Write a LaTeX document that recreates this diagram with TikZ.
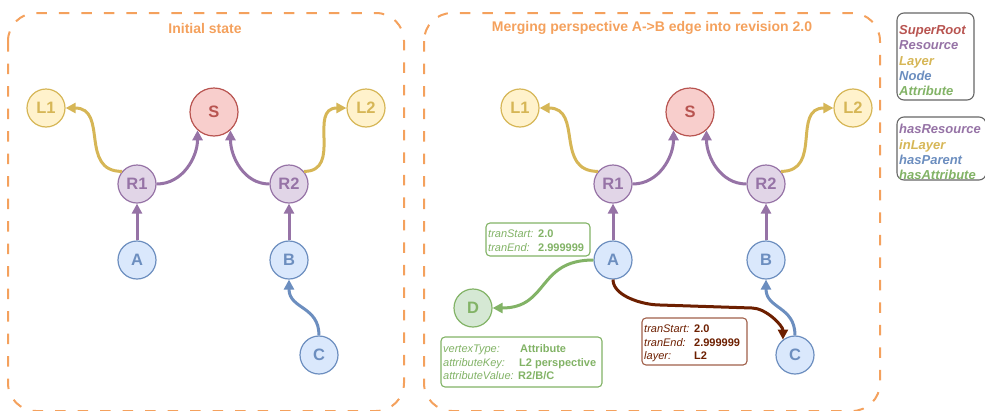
\documentclass[tikz,border=0pt]{standalone}
\usepackage{fontspec}
\setmainfont{Liberation Sans}
\usetikzlibrary{arrows.meta}

\definecolor{frameOrange}{HTML}{F4A15D}
\definecolor{srStroke}{HTML}{B85450}
\definecolor{srFill}{HTML}{F8CECC}
\definecolor{resStroke}{HTML}{9673A6}
\definecolor{resFill}{HTML}{E1D5E7}
\definecolor{layStroke}{HTML}{D6B656}
\definecolor{layFill}{HTML}{FFF2CC}
\definecolor{nodStroke}{HTML}{6C8EBF}
\definecolor{nodFill}{HTML}{DAE8FC}
\definecolor{attStroke}{HTML}{82B366}
\definecolor{attFill}{HTML}{D5E8D4}
\definecolor{brownEdge}{HTML}{6D1F00}
\definecolor{brownBox}{HTML}{A0604A}
\definecolor{legendGray}{HTML}{666666}

\tikzset{
  vtx/.style={circle, minimum size=38pt, inner sep=0pt, line width=1.2pt,
    font=\fontsize{16.5}{16.5}\selectfont\bfseries},
  rootv/.style={vtx, minimum size=48pt, draw=srStroke, fill=srFill, text=srStroke},
  resv/.style={vtx, draw=resStroke, fill=resFill, text=resStroke},
  layv/.style={vtx, draw=layStroke, fill=layFill, text=layStroke},
  nodv/.style={vtx, draw=nodStroke, fill=nodFill, text=nodStroke},
  attv/.style={vtx, draw=attStroke, fill=attFill, text=attStroke},
  edge/.style={line width=3pt, -{Triangle[length=10pt,width=10pt]}},
  hasRes/.style={edge, draw=resStroke},
  inLay/.style={edge, draw=layStroke},
  hasPar/.style={edge, draw=nodStroke},
  hasAtt/.style={edge, draw=attStroke},
  tranEdge/.style={edge, draw=brownEdge},
  panel/.style={draw=frameOrange, line width=2pt, dash pattern=on 10.5pt off 12pt,
    rounded corners=28pt},
  paneltitle/.style={text=frameOrange, font=\fontsize{14}{16}\selectfont\bfseries},
  legendbox/.style={draw=legendGray, line width=1.1pt, rounded corners=7pt},
  legend/.style={anchor=base west, inner sep=0pt, font=\fontsize{13}{13}\selectfont\bfseries\itshape},
  propbox/.style={line width=1.1pt, rounded corners=4pt, fill=white},
  propkey/.style={anchor=base west, inner sep=0pt, font=\fontsize{11}{11}\selectfont\itshape},
  propval/.style={anchor=base west, inner sep=0pt, font=\fontsize{11}{11}\selectfont\bfseries},
}

\begin{document}
\begin{tikzpicture}[x=1pt, y=-1pt]
\useasboundingbox (0,0) rectangle (985,410);
\clip (0,0) rectangle (985,410);

% ---------- panel frames and titles ----------
\draw[panel] (8,13) rectangle (404,411);
\draw[panel] (424,13) rectangle (880,411);
\node[paneltitle] (t1) at (205,28) {Initial state};
\node[paneltitle] (t2) at (652,28) {Merging perspective A->B edge into revision 2.0};

% ---------- initial state ----------
\node[rootv] (S)  at (214,112) {S};
\node[layv]  (L1) at (46,108)  {L1};
\node[layv]  (L2) at (366,108) {L2};
\node[resv]  (R1) at (137,184) {R1};
\node[resv]  (R2) at (289,184) {R2};
\node[nodv]  (A)  at (137,260) {A};
\node[nodv]  (B)  at (289,260) {B};
\node[nodv]  (C)  at (319,355) {C};

\draw[inLay]  (R1.140) to[out=180,in=0,looseness=1.3] (L1.east);
\draw[hasRes] (R1.east) to[out=0,in=-90] (S.228);
\draw[hasRes] (R2.west) to[out=180,in=-90] (S.312);
\draw[inLay]  (R2.40) to[out=0,in=180,looseness=1.3] (L2.west);
\draw[hasRes] (A) -- (R1);
\draw[hasRes] (B) -- (R2);
\draw[hasPar] (C.north) to[out=90,in=-90,looseness=1.2] (B.south);

% ---------- merged revision ----------
\node[rootv] (S')  at (690,112) {S};
\node[layv]  (L1') at (520,108) {L1};
\node[layv]  (L2') at (853,108) {L2};
\node[resv]  (R1') at (613,184) {R1};
\node[resv]  (R2') at (766,184) {R2};
\node[nodv]  (A')  at (613,260) {A};
\node[nodv]  (B')  at (766,260) {B};
\node[nodv]  (C')  at (795,355) {C};
\node[attv]  (D')  at (473,308) {D};

\draw[inLay]  (R1'.140) to[out=180,in=0,looseness=1.3] (L1'.east);
\draw[hasRes] (R1'.east) to[out=0,in=-90] (S'.228);
\draw[hasRes] (R2'.west) to[out=180,in=-90] (S'.312);
\draw[inLay]  (R2'.40) to[out=0,in=180,looseness=1.3] (L2'.west);
\draw[hasRes] (A') -- (R1');
\draw[hasRes] (B') -- (R2');
\draw[hasPar] (C'.north) to[out=90,in=-90,looseness=1.2] (B'.south);
\draw[hasAtt] (A'.west) to[out=180,in=0,looseness=1.3] (D'.east);

\coordinate (ac1) at (660,305);
\coordinate (ac2) at (752,308);
\draw[tranEdge] (A'.south) to[out=-90,in=180,looseness=0.8] (ac1) -- (ac2)
  to[out=0,in=90,looseness=0.8] (C'.128);

% ---------- edge properties ----------
\draw[propbox, draw=attStroke] (486,223) rectangle (590,256);
\begin{scope}[text=attStroke]
  \node[propkey] (k1) at (488,237) {tranStart:};
  \node[propval] (v1) at (538,237) {2.0};
  \node[propkey] (k2) at (488,251) {tranEnd:};
  \node[propval] (v2) at (538,251) {2.999999};
\end{scope}

% ---------- vertex properties ----------
\draw[propbox, draw=attStroke] (441,337) rectangle (602,387);
\begin{scope}[text=attStroke]
  \node[propkey] (k3) at (443,352) {vertexType:};
  \node[propval] (v3) at (520,352) {Attribute};
  \node[propkey] (k4) at (443,366) {attributeKey:};
  \node[propval] (v4) at (519,366) {L2 perspective};
  \node[propkey] (k5) at (443,379) {attributeValue:};
  \node[propval] (v5) at (518,379) {R2/B/C};
\end{scope}

% ---------- merged edge properties ----------
\draw[propbox, draw=brownBox] (642,318) rectangle (747,365);
\begin{scope}[text=brownEdge]
  \node[propkey] (k6) at (644,332) {tranStart:};
  \node[propval] (v6) at (694,332) {2.0};
  \node[propkey] (k7) at (644,346) {tranEnd:};
  \node[propval] (v7) at (694,346) {2.999999};
  \node[propkey] (k8) at (644,359) {layer:};
  \node[propval] (v8) at (694,359) {L2};
\end{scope}

% ---------- legend ----------
\draw[legendbox] (897,13) rectangle (974,100);
\node[legend, text=srStroke]  (lg1) at (899,34) {SuperRoot};
\node[legend, text=resStroke] (lg2) at (899,49) {Resource};
\node[legend, text=layStroke] (lg3) at (899,65) {Layer};
\node[legend, text=nodStroke] (lg4) at (899,80) {Node};
\node[legend, text=attStroke] (lg5) at (899,95) {Attribute};

\draw[legendbox] (897,117) rectangle (986,180);
\node[legend, text=resStroke] (lg6) at (899,133) {hasResource};
\node[legend, text=layStroke] (lg7) at (899,149) {inLayer};
\node[legend, text=nodStroke] (lg8) at (899,164) {hasParent};
\node[legend, text=attStroke] (lg9) at (899,179) {hasAttribute};
\end{tikzpicture}
\end{document}
